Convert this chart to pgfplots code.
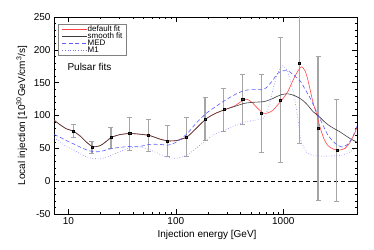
\documentclass[border=0pt]{standalone}
\usepackage{fontspec}
\setmainfont{Liberation Sans}
\usepackage{pgfplots}
\pgfplotsset{compat=1.18}
\definecolor{fitred}{RGB}{255,70,70}
\definecolor{smoothgray}{RGB}{60,60,60}
\definecolor{medblue}{RGB}{90,90,255}
\definecolor{mblue}{RGB}{120,120,255}
\definecolor{errgray}{RGB}{165,165,165}
\begin{document}
\begin{tikzpicture}
\path[use as bounding box] (-54pt,-35pt) rectangle (320pt,214pt);
\begin{axis}[
  at={(0pt,0pt)}, anchor=south west,
  scale only axis, width=303pt, height=197pt,
  xmode=log, xmin=7.36, xmax=4850,
  ymin=-50, ymax=250,
  xtick={10,100,1000},
  log ticks with fixed point,
  /pgf/number format/1000 sep={},
  ytick={-50,0,50,100,150,200,250},
  minor y tick num=4,
  tick align=inside,
  major tick length=5pt, minor tick length=2.5pt,
  every tick/.style={black, line width=0.4pt},
  axis line style={line width=0.5pt},
  tick label style={font=\fontsize{10}{12}\selectfont},
  /pgf/number format/assume math mode=true,
  xlabel={Injection energy [GeV]},
  ylabel={Local injection [10\textsuperscript{30}GeV/cm\textsuperscript{3}/s]},
  label style={font=\fontsize{10}{12}\selectfont},
  xlabel style={at={(axis description cs:0.505,-0.107)}, anchor=center},
  ylabel style={at={(axis description cs:-0.106,0.5)}, anchor=center},
  legend style={at={(axis description cs:0.013,0.964)}, anchor=north west,
    draw=gray, line width=0.4pt, font=\fontsize{8}{8}\selectfont,
    inner xsep=4pt, inner ysep=1.5pt, row sep=0pt,
    nodes={inner sep=0pt, text height=5.6pt, text depth=1.4pt, anchor=west}},
  legend cell align=left,
  legend image code/.code={\draw[#1] (0pt,0pt) -- (25pt,0pt);},
]
% zero line
\addplot[black, dash pattern=on 4pt off 3pt, line width=0.4pt, forget plot] coordinates {(7.36,0) (4850,0)};
% error bars
\addplot[draw=none, mark=none, forget plot,
  error bars/.cd, y dir=both, y explicit,
  error bar style={errgray, line width=1.2pt},
  error mark options={errgray, rotate=90, mark size=2.5pt, line width=0.8pt}]
coordinates {
(11.13,76) +- (0,10)
(16.6,52) +- (0,9)
(24.9,66.5) +- (0,16)
(37.2,72.6) +- (0,25)
(55.7,69.5) +- (0,24)
(83.4,61.3) +- (0,23)
(125,67.4) +- (0,29.5)
(187,94.8) +- (0,33)
(280,109) +- (0,32.5)
(419,124.8) +- (0,38)
(627,103) +- (0,59)
(939,123.8) +- (0,95)
(1406,180) +- (0,123)
(2105,80.2) +- (0,110)
(3152,47.2) +- (0,78)
};
% default fit
\addplot[fitred, line width=0.6pt, smooth, tension=0.4] coordinates {
(7.36,93) (8.37,86) (9.52,80) (11.13,76) (12.85,69) (14.62,60) (16.87,52.5)
(19.72,54) (21.95,59) (25.1,66.5) (30.3,71) (37.8,72.6) (46.5,71.5) (57.1,69.5)
(71.3,64) (85.1,61.3) (102.6,62) (127,67.4) (154,80) (191,94.8) (232,103) (287,109)
(356,115) (434,124.5) (470,124) (512,120) (569,112) (651,103.5) (721,104) (802,108)
(874,115) (972,123.8) (1106,137) (1285,160) (1462,174) (1593,168) (1700,153)
(1891,120) (2061,100) (2198,82) (2394,64) (2608,54) (2904,49) (3297,47.2)
(3750,50) (4176,59) (4650,74) (4850,82)
};
\addlegendentry{default fit}
% smooth fit
\addplot[smoothgray, line width=0.6pt, smooth, tension=0.4] coordinates {
(7.36,93) (8.37,86) (9.52,80) (11.13,76) (12.85,69) (14.62,60) (16.87,52.5)
(19.72,54) (21.95,59) (25.1,66.5) (30.3,71) (37.8,72.6) (46.5,71.5) (57.1,69.5)
(71.3,64) (85.1,61.3) (102.6,62) (127,67.4) (154,80) (191,94.8) (232,103) (287,109)
(356,114) (434,118.5) (512,120) (651,121) (721,123) (802,126) (874,129) (972,132)
(1106,133) (1285,130) (1462,125) (1593,120) (1700,115) (1891,106) (2061,101)
(2198,97) (2394,91) (2608,86) (2904,81) (3297,76) (3750,70) (4176,65) (4650,61) (4850,59)
};
\addlegendentry{smooth fit}
% MED
\addplot[medblue, line width=0.6pt, dash pattern=on 4pt off 2.5pt, smooth, tension=0.4] coordinates {
(7.36,71) (8.37,67) (9.52,62) (11.13,57) (12.85,52) (14.62,48) (16.87,45)
(19.72,45) (21.95,47) (25.1,49.5) (30.3,51.5) (37.8,53) (46.5,53) (57.1,56)
(71.3,56) (85.1,55) (102.6,60) (127,72) (154,88) (191,103) (232,113) (287,123)
(356,132) (434,138) (512,139.5) (651,139.5) (721,145) (802,154) (874,163) (972,168)
(1106,168) (1157,166) (1285,160) (1462,151) (1593,140) (1786,126) (1968,111)
(2300,88) (2560,72) (2855,62) (3180,55) (3550,52) (3960,56) (4420,67) (4850,85)
};
\addlegendentry{MED}
% M1
\addplot[mblue, line width=0.6pt, dotted, smooth, tension=0.4] coordinates {
(7.36,66) (8.37,60) (9.52,53) (11.13,48) (12.85,42) (14.62,37) (16.87,34.5)
(19.72,34) (21.95,36) (25.1,39.5) (30.3,45) (37.8,51) (46.5,52) (57.1,48)
(71.3,41) (85.1,36) (102.6,35) (127,40) (154,50) (191,62) (232,72) (287,78)
(356,85) (434,90) (512,92) (651,96) (721,110) (802,140) (874,162) (972,176)
(1050,172) (1106,165) (1200,145) (1285,123) (1380,90) (1462,62) (1593,48)
(1700,42) (2000,39) (2300,38) (2900,38.5) (3550,40) (4000,43) (4420,47) (4850,52)
};
\addlegendentry{M1}
% markers
\addplot[only marks, mark=square*, mark size=1.1pt, mark options={fill=black!75, draw=black}, forget plot] coordinates {
(11.13,76) (16.6,52) (24.9,66.5) (37.2,72.6) (55.7,69.5) (83.4,61.3) (125,67.4)
(187,94.8) (280,109) (419,124.8) (627,103) (939,123.8) (1406,180) (2105,80.2) (3152,47.2)
};
\node[anchor=west, font=\fontsize{10}{12}\selectfont] at (axis description cs:0.033,0.746) {Pulsar fits};
\end{axis}
\end{tikzpicture}
\end{document}
